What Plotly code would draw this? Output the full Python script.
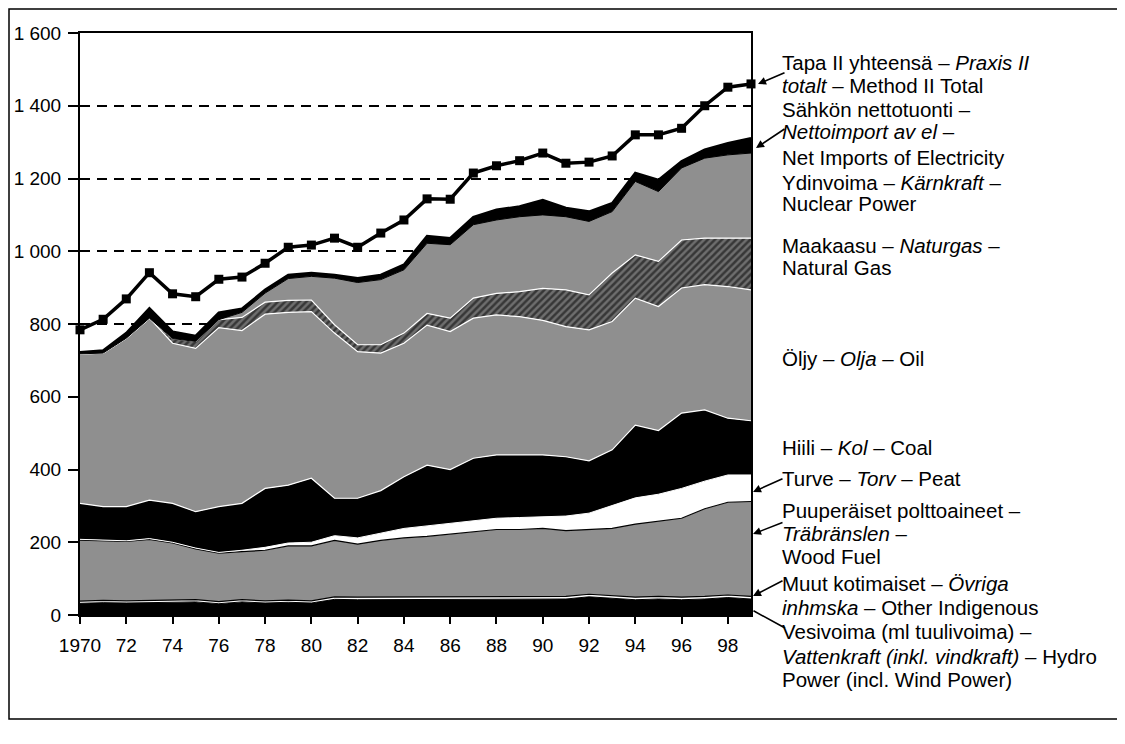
import plotly.graph_objects as go

years = list(range(1970, 2000))

hydro = [32, 34, 33, 34, 37, 36, 31, 36, 33, 35, 33, 43, 42, 42, 42, 43, 43, 44, 44, 44,
         42, 44, 50, 46, 42, 44, 42, 44, 48, 44]
other_indigenous = [6, 6, 6, 6, 6, 6, 6, 6, 6, 6, 6, 7, 7, 7, 7, 7, 7, 7, 7, 7,
                    7, 7, 7, 7, 7, 7, 7, 7, 7, 7]
wood_fuel = [168, 164, 163, 168, 155, 140, 133, 132, 139, 149, 151, 155, 146, 156, 163, 166,
             172, 177, 184, 184, 189, 181, 179, 185, 201, 207, 217, 241, 255, 261]
peat = [2, 2, 2, 2, 2, 2, 2, 4, 8, 8, 10, 13, 17, 20, 26, 29, 30, 32, 31, 33,
        32, 40, 44, 62, 72, 74, 82, 76, 75, 73]
coal = [99, 92, 94, 106, 107, 100, 126, 129, 162, 159, 176, 103, 109, 117, 142, 167,
        148, 171, 174, 172, 170, 163, 144, 154, 200, 175, 207, 196, 156, 149]
oil = [411, 422, 463, 500, 440, 449, 492, 475, 479, 475, 458, 454, 403, 378, 367, 385,
       379, 385, 385, 380, 370, 358, 360, 353, 349, 341, 344, 344, 362, 360]
natural_gas = [0, 0, 0, 0, 13, 19, 22, 36, 33, 33, 32, 23, 19, 23, 28, 32,
               37, 55, 59, 69, 88, 101, 96, 133, 119, 124, 132, 128, 133, 142]
nuclear = [0, 0, 0, 0, 0, 0, 0, 14, 25, 60, 65, 128, 171, 179, 174, 193,
           202, 202, 202, 206, 202, 201, 202, 169, 202, 192, 198, 220, 229, 234]
net_imports = [4, 7, 14, 27, 19, 15, 19, 10, 9, 10, 9, 9, 12, 13, 14, 20,
               18, 21, 28, 28, 41, 24, 27, 23, 23, 32, 18, 23, 32, 41]
total_method2 = [784, 813, 869, 941, 883, 875, 923, 929, 967, 1011, 1017, 1036, 1011, 1050,
                 1086, 1144, 1143, 1215, 1235, 1249, 1270, 1242, 1245, 1262, 1320, 1320,
                 1338, 1400, 1451, 1460]

y_tickvals = [0, 200, 400, 600, 800, 1000, 1200, 1400, 1600]
y_ticktext = ["0", "200", "400", "600", "800", "1 000", "1 200", "1 400", "1 600"]
x_tickvals = list(range(1970, 2000, 2))
x_ticktext = ["1970", "72", "74", "76", "78", "80", "82", "84", "86", "88", "90",
              "92", "94", "96", "98"]

# label lines: (text, centre y in page px)
label_lines = [
    ("Tapa II yhteensä – <i>Praxis II</i>", 62),
    ("<i>totalt</i> – Method II Total", 85),
    ("Sähkön nettotuonti –", 110),
    ("<i>Nettoimport av el</i> –", 132),
    ("Net Imports of Electricity", 157),
    ("Ydinvoima – <i>Kärnkraft</i> –", 182),
    ("Nuclear Power", 204),
    ("Maakaasu – <i>Naturgas</i> –", 245),
    ("Natural Gas", 267),
    ("Öljy – <i>Olja</i> – Oil", 358),
    ("Hiili – <i>Kol</i> – Coal", 447),
    ("Turve – <i>Torv</i> – Peat", 479),
    ("Puuperäiset polttoaineet –", 510),
    ("<i>Träbränslen</i> –", 533),
    ("Wood Fuel", 556),
    ("Muut kotimaiset – <i>Övriga</i>", 583),
    ("<i>inhmska</i> – Other Indigenous", 607),
    ("Vesivoima (ml tuulivoima) –", 632),
    ("<i>Vattenkraft (inkl. vindkraft)</i> – Hydro", 656),
    ("Power (incl. Wind Power)", 679),
]

GRAY = "#8f8f8f"
FONT = "Liberation Sans, Arial, Helvetica, sans-serif"
OFF = 8  # page body margin

fig = go.Figure()

layers = [
    ("Hydro", hydro, dict(fillcolor="#000000"), dict(color="#000000", width=1)),
    ("Other", other_indigenous, dict(fillcolor="#ffffff"), dict(color="#000000", width=1.2)),
    ("Wood", wood_fuel, dict(fillcolor=GRAY), dict(color="#000000", width=1.2)),
    ("Peat", peat, dict(fillcolor="#ffffff"), dict(color="#ffffff", width=1)),
    ("Coal", coal, dict(fillcolor="#000000"), dict(color="#ffffff", width=1.2)),
    ("Oil", oil, dict(fillcolor=GRAY), dict(color="#ffffff", width=1.2)),
    ("Gas", natural_gas, dict(fillcolor="#555555",
                              fillpattern=dict(shape="/", fgcolor="#000000", bgcolor="#6e6e6e",
                                               size=5, solidity=0.5)),
     dict(color="#ffffff", width=1.2)),
    ("Nuclear", nuclear, dict(fillcolor=GRAY), dict(color="#000000", width=1)),
    ("Imports", net_imports, dict(fillcolor="#000000"), dict(color="#000000", width=2.5)),
]

for name, vals, fillkw, linekw in layers:
    fig.add_trace(go.Scatter(
        x=years, y=vals, name=name, stackgroup="one", mode="lines",
        line=linekw, hoverinfo="skip", **fillkw,
    ))

fig.add_trace(go.Scatter(
    x=years, y=total_method2, name="Total", mode="lines+markers",
    line=dict(color="#000000", width=3.5),
    marker=dict(symbol="square", size=9, color="#000000"),
    cliponaxis=False, hoverinfo="skip",
))

# plot-area geometry in page pixels
L, R, T, B = 80, 751, 33, 615
W, H = R - L, B - T
FIG_W, FIG_H = 1125 - OFF, 744 - OFF


def px(xp):
    return (xp - L) / W


def py(yp):
    return (B - yp) / H


annotations = []
for txt, yc in label_lines:
    annotations.append(dict(
        text=txt, xref="paper", yref="paper", x=px(780), y=py(yc),
        xanchor="left", yanchor="middle", align="left", showarrow=False,
        font=dict(family=FONT, size=20.5, color="#000000"),
    ))

# arrows: (tip_x, tip_y, tail_x, tail_y) in page pixels
arrows = [
    (758, 84, 786, 72),
    (756, 148, 786, 128),
    (753, 492, 784, 478),
    (753, 534, 784, 522),
    (753, 596, 784, 580),
]
for tx, ty, sx, sy in arrows:
    annotations.append(dict(
        text="", xref="paper", yref="paper", x=px(tx), y=py(ty),
        ax=sx - tx, ay=sy - ty, showarrow=True, arrowhead=2, arrowsize=1,
        arrowwidth=1.6, arrowcolor="#000000",
    ))
annotations.append(dict(
    text="", xref="paper", yref="paper", x=px(785), y=py(628),
    ax=752 - 785, ay=610 - 628, showarrow=True, arrowhead=0,
    arrowwidth=1.6, arrowcolor="#000000",
))

fig.update_layout(
    width=FIG_W, height=FIG_H, autosize=False,
    margin=dict(l=L - OFF, r=FIG_W - (R - OFF), t=T - OFF, b=FIG_H - (B - OFF),
                autoexpand=False),
    paper_bgcolor="#ffffff", plot_bgcolor="#ffffff",
    showlegend=False,
    font=dict(family=FONT, size=19, color="#000000"),
    annotations=annotations,
    shapes=[dict(type="rect", xref="paper", yref="paper",
                 x0=px(9), x1=px(1121), y0=py(719), y1=py(9),
                 line=dict(color="#000000", width=1.5), layer="below")],
    xaxis=dict(
        range=[1970, 1999], tickvals=x_tickvals, ticktext=x_ticktext,
        ticks="outside", ticklen=7, tickwidth=1.5, tickcolor="#000000",
        ticklabelstandoff=5, automargin=False,
        showline=True, linecolor="#000000", linewidth=1.5, mirror=True,
        showgrid=False, zeroline=False,
        tickfont=dict(family=FONT, size=19, color="#000000"),
    ),
    yaxis=dict(
        range=[0, 1600], tickvals=y_tickvals, ticktext=y_ticktext,
        ticks="outside", ticklen=10, tickwidth=1.5, tickcolor="#000000",
        ticklabelstandoff=3, automargin=False,
        showline=True, linecolor="#000000", linewidth=2, mirror=True,
        showgrid=True, gridcolor="#000000", gridwidth=1.5, griddash="10px,7px",
        zeroline=False,
        tickfont=dict(family=FONT, size=19, color="#000000"),
    ),
)

fig.write_html("out.html")
